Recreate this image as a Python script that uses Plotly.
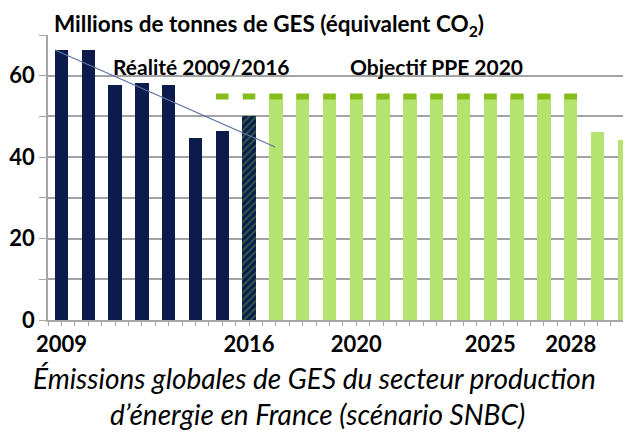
import plotly.graph_objects as go

# ---- data ----
years_real = [2009, 2010, 2011, 2012, 2013, 2014, 2015, 2016]
emissions_real = [66.2, 66.2, 57.6, 58.3, 57.6, 44.6, 46.5, 50.0]
hatch_real = ["", "", "", "", "", "", "", "/"]

years_target = [2017, 2018, 2019, 2020, 2021, 2022, 2023, 2024, 2025, 2026, 2027, 2028, 2029, 2030]
emissions_target = [55.5, 55.5, 55.5, 55.5, 55.5, 55.5, 55.5, 55.5, 55.5, 55.5, 55.5, 55.5, 46.2, 44.2]

years_ppe = [2015, 2016, 2017, 2018, 2019, 2020, 2021, 2022, 2023, 2024, 2025, 2026, 2027, 2028]
ppe_goal = [54.9, 54.9, 54.9, 54.9, 54.9, 54.9, 54.9, 54.9, 54.9, 54.9, 54.9, 54.9, 54.9, 54.9]

trend_x = [2008.76, 2016.97]
trend_y = [66.3, 42.5]

x_tick_years = [2009, 2016, 2020, 2025, 2028]
x_tick_labels = ["2009", "2016", "2020", "2025", "2028"]
y_label_vals = [0, 20, 40, 60]
y_label_text = ["0", "20", "40", "60"]

NAVY = "#0d1b4c"
LIGHT_GREEN = "#b5e36f"
DARK_GREEN = "#86bd1c"
GRID = "#a6a6a6"
GRIDLINE = "#a3a3a3"
FONT = "Lato"

fig = go.Figure()

fig.add_trace(go.Bar(
    x=years_real, y=emissions_real, width=0.5,
    marker=dict(color=NAVY, line=dict(width=0),
                pattern=dict(shape=hatch_real, fgcolor="#4e9a3c", size=5, solidity=0.4)),
    showlegend=False,
))
fig.add_trace(go.Bar(
    x=years_target, y=emissions_target, width=0.5,
    marker=dict(color=LIGHT_GREEN, line=dict(width=0)),
    showlegend=False,
))
fig.add_trace(go.Scatter(
    x=years_ppe, y=ppe_goal, mode="markers",
    marker=dict(symbol="line-ew", size=9, line=dict(width=6, color=DARK_GREEN), color=DARK_GREEN),
    showlegend=False,
))
fig.add_trace(go.Scatter(
    x=trend_x, y=trend_y, mode="lines",
    line=dict(color="#5f73a3", width=1.2),
    showlegend=False,
))

# page body has an 8px default margin: figure is sized/shifted to compensate
fig.update_layout(
    width=623, height=424,
    margin=dict(l=40, r=0, t=27, b=112, autoexpand=False),
    plot_bgcolor="white", paper_bgcolor="white",
    barmode="overlay", bargap=0,
    font=dict(family=FONT, color="black"),
    xaxis=dict(
        range=[2008.5, 2030.25],
        tickmode="array", tickvals=x_tick_years, ticktext=x_tick_labels,
        tickfont=dict(family=FONT, size=22, color="black", weight="bold"),
        ticks="outside", ticklen=4, tickcolor=GRID,
        minor=dict(ticks="outside", dtick=0.5, tick0=2008.5, ticklen=4, tickcolor=GRID, showgrid=False),
        showgrid=False, showline=True, linecolor=GRID, linewidth=1.5,
        zeroline=False, automargin=False,
    ),
    yaxis=dict(
        range=[0, 70],
        tickmode="array", tickvals=y_label_vals, ticktext=y_label_text,
        tickfont=dict(family=FONT, size=22, color="black", weight="bold"),
        ticks="outside", ticklen=7, tickcolor=GRID,
        showgrid=True, gridcolor=GRIDLINE, gridwidth=2,
        minor=dict(tickmode="linear", tick0=0, dtick=10, ticks="outside", ticklen=7,
                   tickcolor=GRID, showgrid=True, gridcolor=GRIDLINE, gridwidth=2),
        showline=True, linecolor=GRID, linewidth=1.5,
        zeroline=False, automargin=False,
    ),
)

fig.add_annotation(
    text="Millions de tonnes de GES (équivalent CO<sub>2</sub>)",
    xref="paper", yref="paper", x=(52 - 48) / 583, y=(320 - 25) / 285,
    xanchor="left", yanchor="middle",
    showarrow=False, font=dict(family=FONT, size=22.5, color="black", weight="bold"),
)
fig.add_annotation(
    text="Réalité 2009/2016",
    xref="x", yref="y", x=2014.22, y=62.2, xanchor="center", yanchor="middle",
    showarrow=False, font=dict(family=FONT, size=21, color="black", weight="bold"),
)
fig.add_annotation(
    text="Objectif PPE 2020",
    xref="x", yref="y", x=2022.99, y=62.2, xanchor="center", yanchor="middle",
    showarrow=False, font=dict(family=FONT, size=21, color="black", weight="bold"),
)
fig.add_annotation(
    text="Émissions globales de GES du secteur production",
    xref="paper", yref="paper", x=(314 - 48) / 583, y=(320 - 378) / 285,
    xanchor="center", yanchor="middle",
    showarrow=False, font=dict(family=FONT, size=28, color="black", style="italic"),
)
fig.add_annotation(
    text="d’énergie en France (scénario SNBC)",
    xref="paper", yref="paper", x=(317 - 48) / 583, y=(320 - 414) / 285,
    xanchor="center", yanchor="middle",
    showarrow=False, font=dict(family=FONT, size=28, color="black", style="italic"),
)

fig.write_html("out.html")
